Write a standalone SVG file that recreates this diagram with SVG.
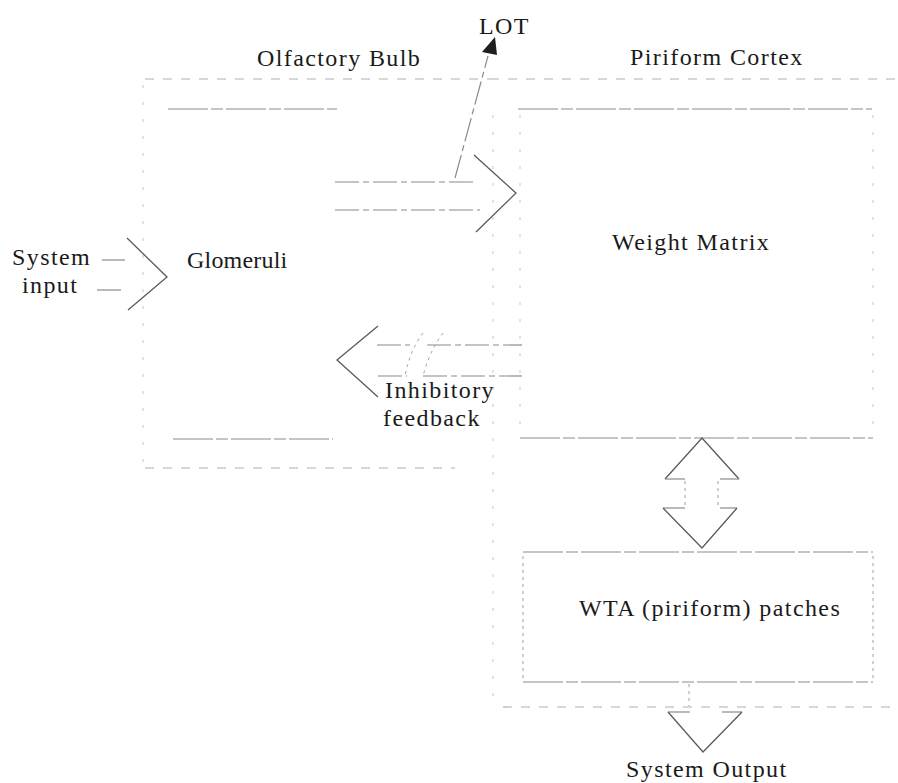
<svg xmlns="http://www.w3.org/2000/svg" width="898" height="783" viewBox="0 0 898 783">
<style>
text{font-family:"Liberation Serif","Times New Roman",serif;font-size:24px;letter-spacing:1.4px;fill:#1a1a1a}
.outer{stroke:#b0b0b0;stroke-width:1.2;stroke-dasharray:9 9;fill:none}
.inner{stroke:#8c8c8c;stroke-width:1.2;stroke-dasharray:40 3 12 3;fill:none}
.side{stroke:#c8c8c8;stroke-width:1;stroke-dasharray:3 14;fill:none}
.chev{stroke:#5a5a5a;stroke-width:1.3;fill:none}
.shaft{stroke:#8a8a8a;stroke-width:1.2;stroke-dasharray:24 4 6 4;fill:none}
.dot{stroke:#a0a0a0;stroke-width:1;stroke-dasharray:3 4;fill:none}
</style>
<rect width="898" height="783" fill="#ffffff"/>
<g id="olfactory-bulb">
<line class="outer" x1="145" y1="79" x2="490" y2="79"/>
<line class="outer" x1="145" y1="468" x2="455" y2="468"/>
<line class="side" x1="143" y1="85" x2="143" y2="462"/>
<text x="257" y="66">Olfactory Bulb</text>
</g>
<g id="glomeruli">
<line class="inner" x1="168" y1="109" x2="337" y2="109"/>
<line class="inner" x1="173" y1="439" x2="333" y2="439"/>
<text x="187" y="268" style="letter-spacing:0.2px">Glomeruli</text>
</g>
<g id="piriform-cortex">
<line class="outer" x1="490" y1="79" x2="898" y2="79"/>
<line class="outer" x1="503" y1="707" x2="898" y2="707"/>
<line class="side" x1="493" y1="115" x2="493" y2="700"/>
<text x="630" y="65">Piriform Cortex</text>
</g>
<g id="weight-matrix">
<line class="inner" x1="518" y1="109" x2="872" y2="109"/>
<line class="inner" x1="520" y1="438" x2="873" y2="438"/>
<line class="side" x1="520" y1="115" x2="520" y2="432"/>
<line class="side" x1="873" y1="115" x2="873" y2="432"/>
<text x="612" y="250">Weight Matrix</text>
</g>
<g id="wta-patches">
<line class="inner" x1="523" y1="552" x2="873" y2="552"/>
<line class="inner" x1="523" y1="682" x2="873" y2="682"/>
<line class="dot" x1="523" y1="556" x2="523" y2="680"/>
<line class="dot" x1="873" y1="556" x2="873" y2="680"/>
<text x="579" y="616">WTA (piriform) patches</text>
</g>
<g id="labels">
<text x="12" y="265">System</text>
<text x="22" y="293">input</text>
<text x="479" y="34">LOT</text>
<text x="385" y="398">Inhibitory</text>
<text x="383" y="426">feedback</text>
<text x="626" y="777">System Output</text>
</g>
<g id="connectors">
<line class="shaft" x1="102" y1="260" x2="125" y2="260"/>
<line class="shaft" x1="97" y1="290" x2="125" y2="290"/>
<polyline class="chev" points="127,238 167,277 128,310"/>
<line class="shaft" x1="335" y1="182" x2="473" y2="182"/>
<line class="shaft" x1="335" y1="210" x2="480" y2="210"/>
<polyline class="chev" points="474,155 516,193 476,232"/>
<line class="shaft" x1="455" y1="178" x2="488" y2="56"/>
<polygon points="495,37 482,52 497,55" fill="#1e1e1e"/>
<line class="shaft" x1="377" y1="345" x2="410" y2="345"/>
<line class="shaft" x1="427" y1="345" x2="522" y2="345"/>
<line class="shaft" x1="378" y1="376" x2="407" y2="376"/>
<line class="shaft" x1="423" y1="376" x2="522" y2="376"/>
<polyline class="chev" points="378,326 337,360 378,397"/>
<path class="dot" d="M423,333 Q410,350 405,376"/>
<path class="dot" d="M443,333 Q430,350 423,376"/>
<polyline class="chev" points="665,479 702,438 739,479"/>
<line class="shaft" x1="665" y1="479" x2="685" y2="479"/>
<line class="shaft" x1="720" y1="479" x2="739" y2="479"/>
<line class="dot" x1="685" y1="481" x2="685" y2="507"/>
<line class="dot" x1="718" y1="481" x2="718" y2="507"/>
<line class="shaft" x1="663" y1="508" x2="685" y2="508"/>
<line class="shaft" x1="720" y1="508" x2="737" y2="508"/>
<polyline class="chev" points="663,508 702,548 737,508"/>
<line class="dot" x1="689" y1="684" x2="689" y2="706"/>
<line class="shaft" x1="668" y1="712" x2="690" y2="712"/>
<line class="shaft" x1="722" y1="712" x2="742" y2="712"/>
<polyline class="chev" points="668,712 703,752 742,712"/>
</g>
</svg>
